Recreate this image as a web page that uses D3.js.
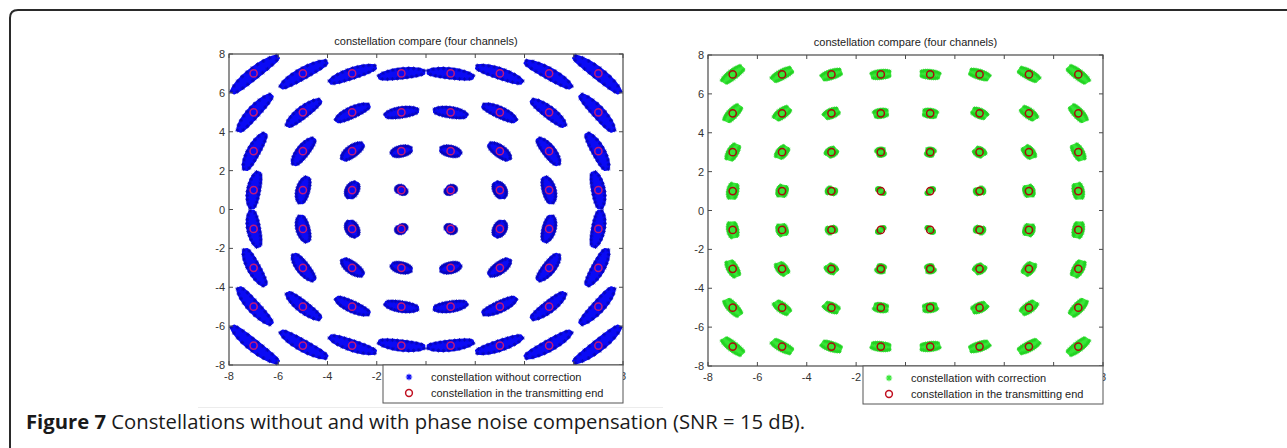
<!DOCTYPE html>
<html>
<head>
<meta charset="utf-8">
<script src="https://cdn.jsdelivr.net/npm/d3@7/dist/d3.min.js"></script>
<style>
  html, body { margin: 0; padding: 0; background: #fff; }
  svg { display: block; }
  .tick-label { font-family: "Liberation Sans", Arial, sans-serif; font-size: 11px; fill: #333; }
  .title { font-family: "Liberation Sans", Arial, sans-serif; font-size: 11px; fill: #222; }
  .legend-text { font-family: "Liberation Sans", Arial, sans-serif; font-size: 11px; fill: #222; }
  .caption { font-family: "Open Sans", "Noto Sans", sans-serif; fill: #1a1a1a; }
</style>
</head>
<body>
<svg id="chart" width="1287" height="448"></svg>
<script>
// DATA
// 64-QAM levels on each axis (ideal transmitted points)
var levels = [-7, -5, -3, -1, 1, 3, 5, 7];
var tickValues = [-8, -6, -4, -2, 0, 2, 4, 6, 8];
var panelTitles = ['constellation compare (four channels)', 'constellation compare (four channels)'];
var receivedLabels = ['constellation without correction', 'constellation with correction'];
var referenceLabel = 'constellation in the transmitting end';
// half spread of the received clouds
var phaseHalfSpreadDeg = [7.5, 3.0];   // rotation around origin, degrees
var ampHalfSpread = [0.24, 0.19];      // radial thickness, data units
var captionBold = 'Figure 7';
var captionRest = ' Constellations without and with phase noise compensation (SNR = 15 dB).';

// SETUP
var svg = d3.select('#chart');

var panels = [
  { left: 229, top: 54, width: 394, height: 311, cloud: '#0a0af5', cloudEdge: '#0606b8', ring: '#c0187a', taper: 0.9 },
  { left: 708, top: 55, width: 395, height: 311, cloud: '#38e638', cloudEdge: '#22d022', ring: '#a80c0c', taper: 0.6 }
];

// figure frame (top + left, rounded corner)
svg.append('path')
  .attr('d', 'M10,448 L10,18 Q10,10 18,10 L1287,10')
  .attr('fill', 'none')
  .attr('stroke', '#2a2a2a')
  .attr('stroke-width', 2);

// faint edge of the pasted image under the left plot
svg.append('line')
  .attr('x1', 198).attr('x2', 663)
  .attr('y1', 407.5).attr('y2', 407.5)
  .attr('stroke', '#ececec');

function asteriskPath(cx, cy, s) {
  var d = s * 0.7;
  return 'M' + (cx - s) + ',' + cy + 'L' + (cx + s) + ',' + cy
    + 'M' + cx + ',' + (cy - s) + 'L' + cx + ',' + (cy + s)
    + 'M' + (cx - d) + ',' + (cy - d) + 'L' + (cx + d) + ',' + (cy + d)
    + 'M' + (cx - d) + ',' + (cy + d) + 'L' + (cx + d) + ',' + (cy - d);
}

panels.forEach(function (p, pi) {
  var x = d3.scaleLinear().domain([-8, 8]).range([p.left, p.left + p.width]);
  var y = d3.scaleLinear().domain([-8, 8]).range([p.top + p.height, p.top]);

  var g = svg.append('g').attr('class', 'panel');

  // title
  g.append('text')
    .attr('class', 'title')
    .attr('x', p.left + p.width / 2)
    .attr('y', p.top - 9)
    .attr('text-anchor', 'middle')
    .text(panelTitles[pi]);

  // build clouds: arc sector around each ideal point
  var points = [];
  levels.forEach(function (yi) {
    levels.forEach(function (xi) {
      points.push([xi, yi]);
    });
  });

  var delta = phaseHalfSpreadDeg[pi] * Math.PI / 180;
  var amp = ampHalfSpread[pi];
  var n = 18;

  function cloudOutline(pt) {
    var r = Math.hypot(pt[0], pt[1]);
    var th = Math.atan2(pt[1], pt[0]);
    var outer = [], inner = [];
    for (var i = 0; i <= n; i++) {
      var s = -1 + 2 * i / n;
      var h = amp * Math.sqrt(1 - p.taper * s * s);
      var a = th + s * delta;
      outer.push([x((r + h) * Math.cos(a)), y((r + h) * Math.sin(a))]);
      inner.push([x((r - h) * Math.cos(a)), y((r - h) * Math.sin(a))]);
    }
    return outer.concat(inner.reverse());
  }

  var line = d3.line().curve(d3.curveLinearClosed);
  var clouds = g.append('g').attr('class', 'clouds');

  points.forEach(function (pt) {
    var outline = cloudOutline(pt);
    clouds.append('path')
      .attr('d', line(outline))
      .attr('fill', p.cloud)
      .attr('stroke', p.cloud)
      .attr('stroke-width', 2.5)
      .attr('stroke-linejoin', 'round');
    // fuzzy '*' markers along the border
    clouds.append('path')
      .attr('d', outline.filter(function (v, i) { return i % 2 === 0; })
        .map(function (v) { return asteriskPath(v[0], v[1], 2); }).join(''))
      .attr('fill', 'none')
      .attr('stroke', p.cloudEdge)
      .attr('stroke-width', 0.8);
  });

  // transmitted points
  g.append('g').selectAll('circle')
    .data(points)
    .enter()
    .append('circle')
    .attr('cx', function (d) { return x(d[0]); })
    .attr('cy', function (d) { return y(d[1]); })
    .attr('r', 3.6)
    .attr('fill', 'none')
    .attr('stroke', p.ring)
    .attr('stroke-width', 1.5);

  // axes box with inward ticks on all four sides
  var axisColor = '#4a4a4a';
  g.append('rect')
    .attr('x', p.left).attr('y', p.top)
    .attr('width', p.width).attr('height', p.height)
    .attr('fill', 'none')
    .attr('stroke', axisColor)
    .attr('stroke-width', 1.2);

  var tickLen = 4;
  var ticks = g.append('g').attr('stroke', axisColor).attr('stroke-width', 1);
  tickValues.forEach(function (t) {
    ticks.append('line').attr('x1', x(t)).attr('x2', x(t)).attr('y1', p.top + p.height).attr('y2', p.top + p.height - tickLen);
    ticks.append('line').attr('x1', x(t)).attr('x2', x(t)).attr('y1', p.top).attr('y2', p.top + tickLen);
    ticks.append('line').attr('y1', y(t)).attr('y2', y(t)).attr('x1', p.left).attr('x2', p.left + tickLen);
    ticks.append('line').attr('y1', y(t)).attr('y2', y(t)).attr('x1', p.left + p.width).attr('x2', p.left + p.width - tickLen);
  });

  // legend geometry (sits over the x tick labels like the original)
  var lgW = 240, lgH = 38;
  var lgX = p.left + p.width - lgW, lgY = p.top + p.height;

  // x tick labels fully covered by the legend are not visible in the figure
  g.append('g').selectAll('text.xt')
    .data(tickValues.filter(function (t) {
      return !(x(t) - 5 > lgX && x(t) + 5 < lgX + lgW);
    }))
    .enter()
    .append('text')
    .attr('class', 'tick-label xt')
    .attr('x', function (d) { return x(d); })
    .attr('y', p.top + p.height + 15)
    .attr('text-anchor', 'middle')
    .text(function (d) { return d; });

  g.append('g').selectAll('text.yt')
    .data(tickValues)
    .enter()
    .append('text')
    .attr('class', 'tick-label yt')
    .attr('x', p.left - 4)
    .attr('y', function (d) { return y(d) + 4; })
    .attr('text-anchor', 'end')
    .text(function (d) { return d; });

  var lg = g.append('g').attr('transform', 'translate(' + lgX + ',' + lgY + ')');
  lg.append('rect')
    .attr('width', lgW).attr('height', lgH)
    .attr('fill', '#fff')
    .attr('stroke', '#555')
    .attr('stroke-width', 1);
  lg.append('path')
    .attr('d', asteriskPath(26, 12, 3.2))
    .attr('stroke', p.cloud)
    .attr('stroke-width', 1.1);
  lg.append('text')
    .attr('class', 'legend-text')
    .attr('x', 48).attr('y', 16)
    .text(receivedLabels[pi]);
  lg.append('circle')
    .attr('cx', 26).attr('cy', 28)
    .attr('r', 3.4)
    .attr('fill', 'none')
    .attr('stroke', '#c01020')
    .attr('stroke-width', 1.5);
  lg.append('text')
    .attr('class', 'legend-text')
    .attr('x', 48).attr('y', 32)
    .text(referenceLabel);
});

// caption
var caption = svg.append('text')
  .attr('class', 'caption')
  .attr('x', 26)
  .attr('y', 429)
  .style('font-size', '17px');
caption.append('tspan').attr('font-weight', 'bold').text(captionBold);
caption.append('tspan').text(captionRest);
// fit caption to its width in the figure
var captionWidth = 779;
var w = caption.node().getComputedTextLength();
caption.style('font-size', (17 * captionWidth / w).toFixed(2) + 'px');
</script>
</body>
</html>
